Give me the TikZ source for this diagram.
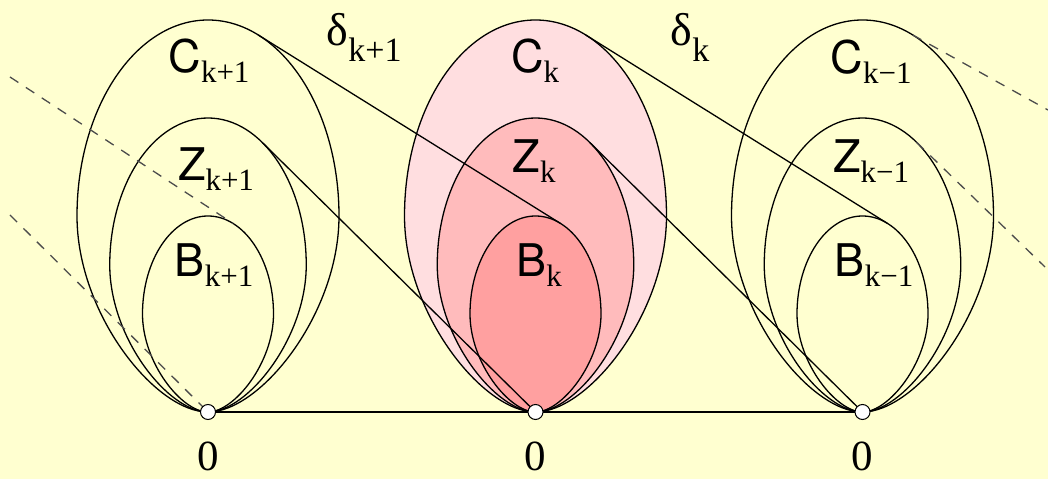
\documentclass[tikz,border=0pt]{standalone}
\usepackage{fontspec}
\setmainfont{Liberation Serif}
\setsansfont{TeX Gyre Heros}
\usetikzlibrary{calc}
\definecolor{bgyellow}{RGB}{255,255,208}
\definecolor{pinkC}{RGB}{255,222,224}
\definecolor{pinkZ}{RGB}{255,187,188}
\definecolor{pinkB}{RGB}{255,160,160}
\newcommand{\setlbl}[2]{{\sffamily\fontsize{45}{45}\selectfont #1}{\fontsize{31}{31}\selectfont\raisebox{-10pt}{#2}}}
\newcommand{\dlbl}[1]{{\fontsize{46}{46}\selectfont δ}{\fontsize{34}{34}\selectfont\raisebox{-16pt}{#1}}}
\tikzset{egg/.pic={\path[pic actions] (0,0) .. controls (-52.4,0) and (-131,98) .. (-131,196)
  .. controls (-131,304.2) and (-72.3,392) .. (0,392) .. controls (72.3,392) and (131,304.2) .. (131,196)
  .. controls (131,98) and (52.4,0) .. (0,0) -- cycle;}}

\begin{document}
\begin{tikzpicture}[x=1pt,y=1pt,line width=1.3pt,
  lbl/.style={anchor=base,inner sep=0pt},
  hint/.style={dashed,dash pattern=on 10pt off 9pt,draw=black!70}]
\fill[bgyellow] (0,0) rectangle (1048,479);
\useasboundingbox (0,0) rectangle (1048,479);
% origins and tangent points
\foreach \i/\x in {1/208,2/535.5,3/862.5}{
  \coordinate (O\i) at (\x,67);
  \coordinate (c\i) at ($(O\i)+(50.1,377.1)$);
  \coordinate (z\i) at ($(O\i)+(54.1,269.7)$);
  \coordinate (b\i) at ($(O\i)+(25.1,188.5)$);
}
\coordinate (L1) at (10,402); \coordinate (L2) at (10,264);
\coordinate (R1) at (1048,369); \coordinate (R2) at (1045,212);
% sets
\pic[draw,fill=pinkC] at (O2) {egg};
\pic[draw,fill=pinkZ,scale=0.75] at (O2) {egg};
\pic[draw,fill=pinkB,scale=0.5] at (O2) {egg};
\foreach \i in {1,3}{
  \pic[draw] at (O\i) {egg};
  \pic[draw,scale=0.75] at (O\i) {egg};
  \pic[draw,scale=0.5] at (O\i) {egg};
}
\draw (O1) -- (O3);
\draw (c1) -- (b2); \draw (z1) -- (O2);
\draw (c2) -- (b3); \draw (z2) -- (O3);
\draw[hint] (L1) -- (b1); \draw[hint] (L2) -- (O1);
\draw[hint] (c3) -- (R1); \draw[hint] (z3) -- (R2);
\foreach \i in {1,2,3}
  \draw[line width=1pt,fill=white] (O\i) circle (7.5);
% labels
\node[lbl] (C1) at (209,406) {\setlbl{C}{k+1}};
\node[lbl] (Z1) at (216,298) {\setlbl{Z}{k+1}};
\node[lbl] (B1) at (214,202) {\setlbl{B}{k+1}};
\node[lbl] (C2) at (535,406) {\setlbl{C}{k}};
\node[lbl] (Z2) at (534,306) {\setlbl{Z}{k}};
\node[lbl] (B2) at (539,202) {\setlbl{B}{k}};
\node[lbl] (C3) at (871,405) {\setlbl{C}{k−1}};
\node[lbl] (Z3) at (871,306) {\setlbl{Z}{k−1}};
\node[lbl] (B3) at (874,202) {\setlbl{B}{k−1}};
\node[lbl,anchor=base west] (d1) at (326,433) {\dlbl{k+1}};
\node[lbl,anchor=base west] (d2) at (670,433) {\dlbl{k}};
\foreach \i in {1,2,3}
  \node[lbl,font=\fontsize{43}{43}\selectfont] (n\i) at ($(O\i)+(0,-58)$) {0};
\end{tikzpicture}
\end{document}
